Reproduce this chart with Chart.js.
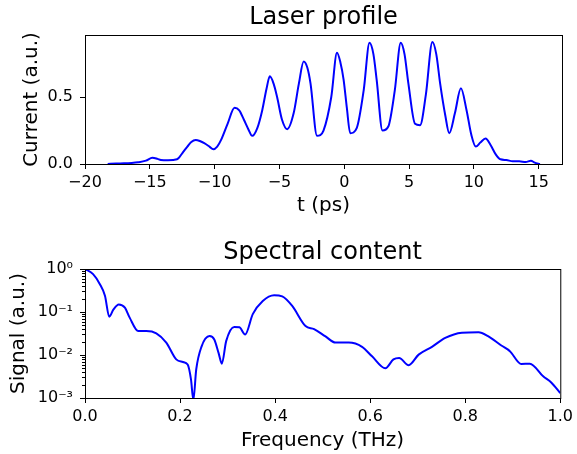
<!DOCTYPE html>
<html>
<head>
<meta charset="utf-8">
<script src="https://cdn.jsdelivr.net/npm/chart.js@4.4.1/dist/chart.umd.min.js"></script>
<style>
  html, body { margin: 0; padding: 0; background: #fff; }
  #wrap { position: relative; width: 577px; height: 454px; }
  .box { position: absolute; left: 0; width: 577px; height: 227px; }
</style>
</head>
<body>
<div id="wrap">
  <div class="box" style="top:0"><canvas id="profile"></canvas></div>
  <div class="box" style="top:227px"><canvas id="spectrum"></canvas></div>
</div>
<script>
// Laser profile (t in ps, current in a.u.)
const profileT = [
  -18.25, -17.6, -17.0, -16.4, -15.9, -15.3, -14.8, -14.4, -14.15, -13.6, -12.9,
  -12.5, -12.1, -11.8, -11.46, -11.1, -10.8, -10.4, -10.1, -9.8, -9.5, -9.0,
  -8.46, -8.1, -7.74, -7.4, -7.1, -6.7, -6.33, -6.0, -5.74, -5.45, -5.18, -4.8,
  -4.4, -3.9, -3.5, -3.13, -2.85, -2.6, -2.1, -1.6, -1.0, -0.56, -0.3, -0.05,
  0.2, 0.46, 0.97, 1.5, 1.95, 2.25, 2.5, 2.95, 3.4, 3.9, 4.36, 4.65, 4.95,
  5.46, 5.85, 6.3, 6.8, 7.1, 7.4, 7.8, 8.1, 8.54, 9.0, 9.44, 9.8, 10.15,
  10.5, 10.9, 11.3, 11.7, 12.05, 12.5, 13.0, 13.5, 14.0, 14.4, 14.7, 15.1
];
const profileI = [
  0.0, 0.004, 0.005, 0.008, 0.013, 0.025, 0.047, 0.038, 0.03, 0.028, 0.035,
  0.08, 0.13, 0.165, 0.18, 0.17, 0.155, 0.13, 0.11, 0.13, 0.18, 0.3,
  0.42, 0.4, 0.33, 0.26, 0.21, 0.27, 0.40, 0.56, 0.655, 0.6, 0.50, 0.33,
  0.26, 0.38, 0.6, 0.765, 0.72, 0.60, 0.21, 0.25, 0.5, 0.83, 0.76, 0.63,
  0.42, 0.23, 0.27, 0.55, 0.905, 0.82, 0.63, 0.25, 0.28, 0.55, 0.905, 0.82, 0.60,
  0.30, 0.29, 0.52, 0.91, 0.82, 0.60, 0.36, 0.23, 0.38, 0.565, 0.40, 0.22, 0.13,
  0.16, 0.19, 0.14, 0.07, 0.035, 0.03, 0.02, 0.02, 0.015, 0.025, 0.01, 0.0
];
const profileXTicks = [-20, -15, -10, -5, 0, 5, 10, 15];
const profileYTicks = [0, 0.5];

// Spectral content (frequency in THz, signal in a.u.)
const specF = [
  0, 0.017, 0.031, 0.042, 0.051, 0.06, 0.071, 0.084, 0.094, 0.112, 0.129,
  0.15, 0.171, 0.192, 0.206, 0.216, 0.223, 0.228, 0.234, 0.245, 0.262, 0.272,
  0.281, 0.288, 0.297, 0.314, 0.325, 0.337, 0.353, 0.374, 0.398, 0.415, 0.436,
  0.464, 0.482, 0.506, 0.527, 0.555, 0.583, 0.604, 0.632, 0.649, 0.661, 0.681,
  0.702, 0.73, 0.758, 0.793, 0.828, 0.848, 0.876, 0.894, 0.918, 0.936, 0.964,
  0.981, 1.0
];
const specS = [
  1.0, 0.76, 0.45, 0.24, 0.078, 0.115, 0.15, 0.126, 0.074, 0.036, 0.036,
  0.032, 0.0195, 0.0079, 0.0069, 0.006, 0.0027, 0.0009, 0.0046, 0.0155, 0.0275, 0.023,
  0.0112, 0.0063, 0.021, 0.045, 0.044, 0.030, 0.089, 0.18, 0.245, 0.23, 0.138,
  0.047, 0.040, 0.027, 0.0195, 0.0195, 0.0155, 0.0093, 0.0049, 0.0079, 0.0085, 0.0058,
  0.0102, 0.0155, 0.025, 0.033, 0.034, 0.0275, 0.0166, 0.0123, 0.0062, 0.0063, 0.0032,
  0.0023, 0.0013
];
const specXTicks = [0, 0.2, 0.4, 0.6, 0.8, 1.0];
const specYTicks = [1e-3, 1e-2, 1e-1, 1e0];

const FONT = 'DejaVu Sans';
const SUP = { '-': '⁻', '0': '⁰', '1': '¹', '2': '²', '3': '³' };

function fmtMinus(v) {
  return String(v).replace('-', '\u2212');
}

function pow10Label(v) {
  const e = Math.round(Math.log10(v));
  return '10' + String(e).split('').map(c => SUP[c]).join('');
}

// frame around the plot area plus titles centred on it
const framePlugin = {
  id: 'frame',
  afterDraw(chart, args, opts) {
    const { ctx, chartArea: a } = chart;
    ctx.save();
    ctx.strokeStyle = '#000';
    ctx.lineWidth = 1;
    ctx.strokeRect(a.left + 0.5, a.top + 0.5, a.right - a.left, a.bottom - a.top);
    ctx.fillStyle = '#000';
    ctx.font = '24px "' + FONT + '"';
    ctx.textAlign = 'center';
    ctx.textBaseline = 'middle';
    ctx.fillText(opts.text, (a.left + a.right) / 2, opts.y);
    // minor ticks on log axis
    if (opts.minor) {
      const y = chart.scales.y;
      for (let d = -3; d < 0; d++) {
        for (let m = 2; m < 10; m++) {
          const py = Math.round(y.getPixelForValue(m * Math.pow(10, d))) + 0.5;
          ctx.beginPath();
          ctx.moveTo(a.left - 3, py);
          ctx.lineTo(a.left, py);
          ctx.stroke();
        }
      }
    }
    ctx.restore();
  }
};

function axisStyle(extra) {
  return Object.assign({
    border: { display: true, color: '#000', width: 1 },
    grid: { display: true, drawOnChartArea: false, drawTicks: true, tickLength: 5, color: '#000' },
  }, extra);
}

function makeChart(id, cfg) {
  return new Chart(document.getElementById(id), {
    type: 'line',
    data: {
      datasets: [{
        data: cfg.xs.map((x, i) => ({ x, y: cfg.ys[i] })),
        borderColor: '#0000ff',
        borderWidth: 2,
        pointRadius: 0,
        fill: false,
        cubicInterpolationMode: 'monotone'
      }]
    },
    options: {
      responsive: true,
      maintainAspectRatio: false,
      animation: false,
      layout: { padding: { top: cfg.top, right: 15, left: 0, bottom: 0 } },
      plugins: {
        legend: { display: false },
        tooltip: { enabled: false },
        frame: { text: cfg.title, y: cfg.titleY, minor: cfg.minor }
      },
      scales: {
        x: axisStyle({
          type: 'linear',
          min: cfg.xmin, max: cfg.xmax,
          afterBuildTicks: s => { s.ticks = cfg.xTicks.map(v => ({ value: v })); },
          afterFit: s => { s.height = cfg.xHeight; },
          ticks: {
            color: '#000', padding: 4, maxRotation: 0, autoSkip: false,
            font: { family: FONT, size: 16 },
            callback: cfg.xFmt
          },
          title: {
            display: true, text: cfg.xLabel, color: '#000',
            font: { family: FONT, size: 20 },
            padding: { top: 0, bottom: cfg.xTitlePad }
          }
        }),
        y: axisStyle({
          type: cfg.yType,
          min: cfg.ymin, max: cfg.ymax,
          afterBuildTicks: s => { s.ticks = cfg.yTicks.map(v => ({ value: v })); },
          afterFit: s => { s.width = 85; },
          ticks: {
            color: '#000', padding: 7, autoSkip: false,
            font: { family: FONT, size: 16 },
            callback: cfg.yFmt
          },
          title: {
            display: true, text: cfg.yLabel, color: '#000',
            font: { family: FONT, size: 20 },
            padding: { top: cfg.yTitlePad, bottom: 0 }
          }
        })
      }
    },
    plugins: [framePlugin]
  });
}

makeChart('profile', {
  xs: profileT, ys: profileI,
  title: 'Laser profile', titleY: 18, top: 35,
  xmin: -20, xmax: 16.8, ymin: 0, ymax: 0.963,
  xTicks: profileXTicks, yTicks: profileYTicks,
  xFmt: v => fmtMinus(v), yFmt: v => v.toFixed(1),
  xLabel: 't (ps)', yLabel: 'Current (a.u.)',
  xHeight: 63, xTitlePad: 9, yTitlePad: 20, yType: 'linear', minor: false
});

makeChart('spectrum', {
  xs: specF, ys: specS,
  title: 'Spectral content', titleY: 26, top: 42,
  xmin: 0, xmax: 1, ymin: 1e-3, ymax: 1,
  xTicks: specXTicks, yTicks: specYTicks,
  xFmt: v => v.toFixed(1), yFmt: v => pow10Label(v),
  xLabel: 'Frequency (THz)', yLabel: 'Signal (a.u.)',
  xHeight: 56, xTitlePad: 1, yTitlePad: 7, yType: 'logarithmic', minor: true
});
</script>
</body>
</html>
